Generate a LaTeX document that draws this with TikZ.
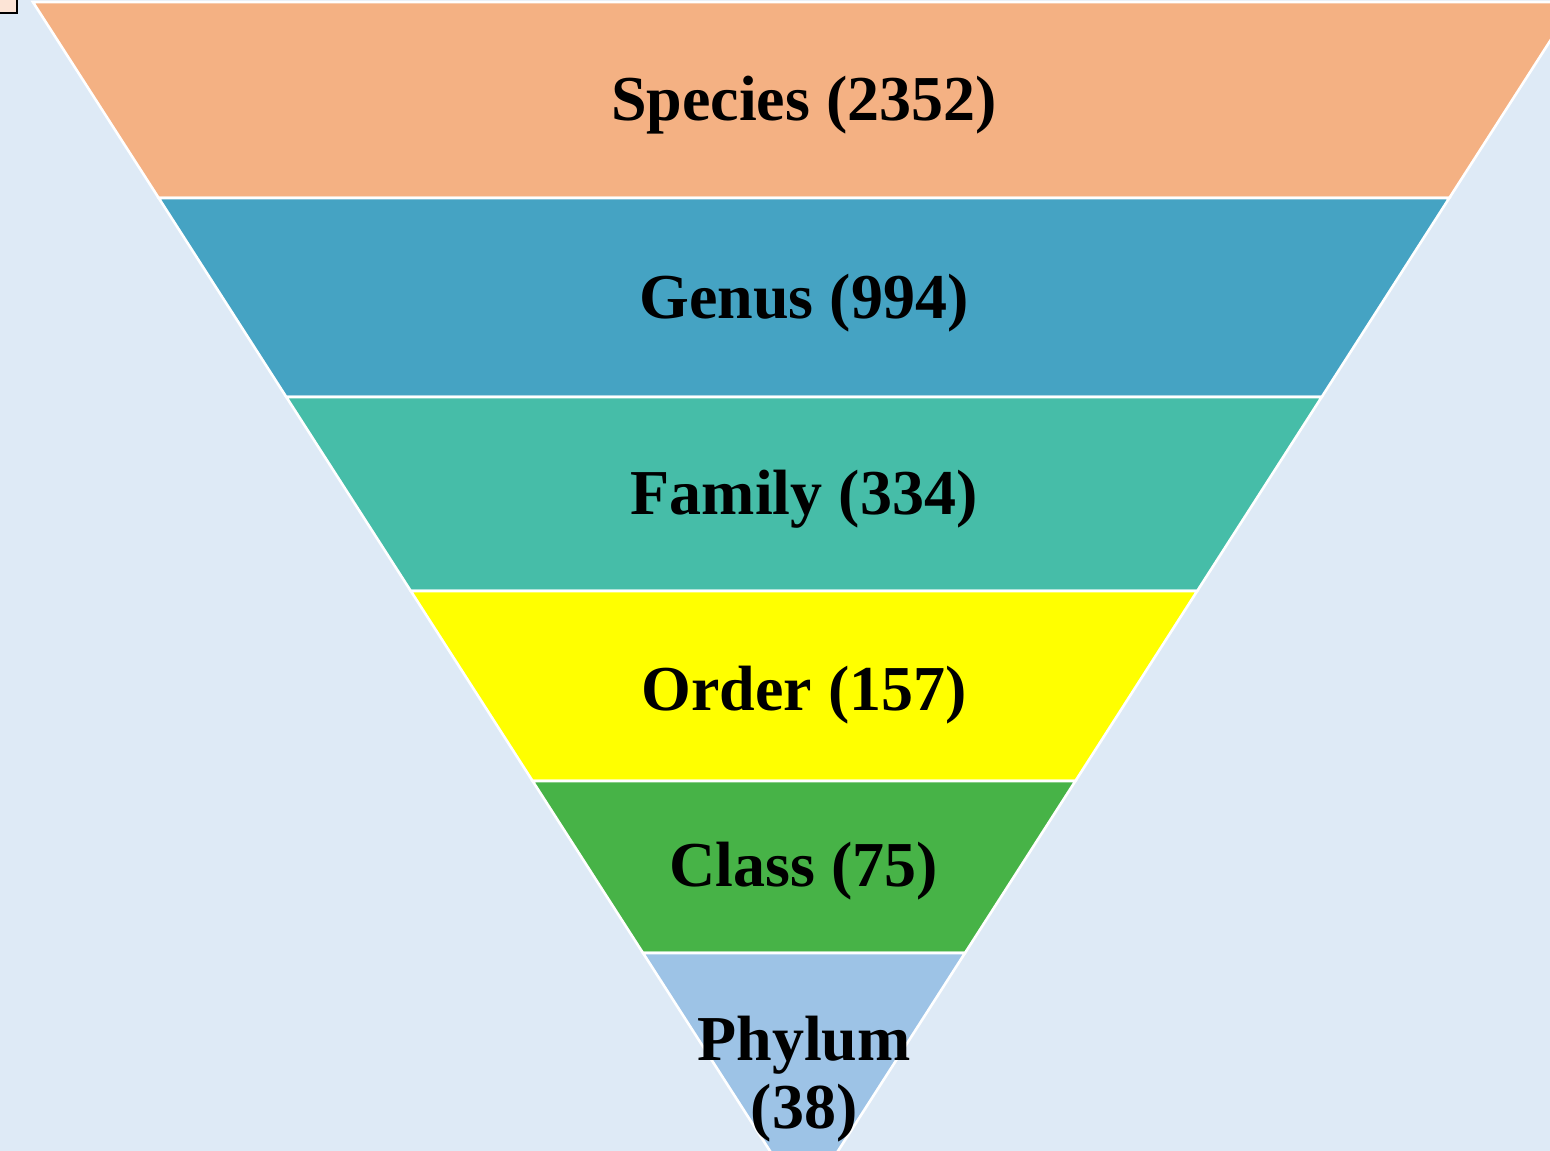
\documentclass[tikz,border=0pt]{standalone}
\usepackage{fontspec}
\setmainfont{Liberation Serif}
\begin{document}
\definecolor{bgblue}{HTML}{DEEAF6}
\definecolor{cspecies}{HTML}{F4B183}
\definecolor{cgenus}{HTML}{45A3C3}
\definecolor{cfamily}{HTML}{46BDA8}
\definecolor{corder}{HTML}{FFFF00}
\definecolor{cclass}{HTML}{47B347}
\definecolor{cphylum}{HTML}{9DC3E6}
\definecolor{cmark}{HTML}{FCE4D6}
\begin{tikzpicture}[x=1pt,y=-1pt,
  layer/.style={draw=white,line width=2.6pt,line join=miter},
  lbl/.style={font=\fontsize{64}{68}\selectfont\bfseries,align=center,inner sep=0pt}]
\useasboundingbox (0,0) rectangle (1550,1151);
\clip (0,0) rectangle (1550,1151);
\fill[bgblue] (0,0) rectangle (1550,1151);
% small marker in the corner
\draw[fill=cmark,draw=black,line width=2pt] (-10,-10) rectangle (17,13);
% funnel layers, narrowing towards an apex at (804,1204)
\filldraw[layer,fill=cspecies] (32.9,2) -- (1575.1,2) -- (1449.3,198) -- (158.7,198) -- cycle;
\filldraw[layer,fill=cgenus]   (158.7,198) -- (1449.3,198) -- (1321.7,397) -- (286.3,397) -- cycle;
\filldraw[layer,fill=cfamily]  (286.3,397) -- (1321.7,397) -- (1197.2,591) -- (410.8,591) -- cycle;
\filldraw[layer,fill=corder]   (410.8,591) -- (1197.2,591) -- (1075.4,781) -- (532.6,781) -- cycle;
\filldraw[layer,fill=cclass]   (532.6,781) -- (1075.4,781) -- (965.0,953) -- (643.0,953) -- cycle;
\filldraw[layer,fill=cphylum]  (643.0,953) -- (965.0,953) -- (804,1204) -- cycle;
% labels
\node[lbl] (species) at (804,105) {Species (2352)};
\node[lbl] (genus)   at (804,303) {Genus (994)};
\node[lbl] (family)  at (804,499) {Family (334)};
\node[lbl] (order)   at (804,695) {Order (157)};
\node[lbl] (class)   at (804,871) {Class (75)};
\node[lbl] (phylum)  at (804,1079) {Phylum\\(38)};
\end{tikzpicture}
\end{document}
